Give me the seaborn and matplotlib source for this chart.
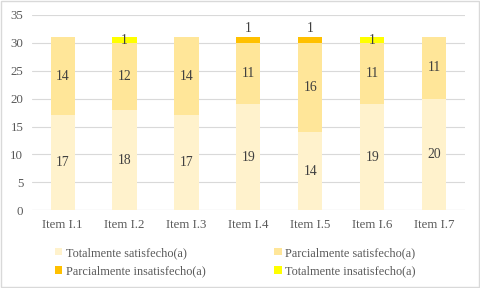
import numpy as np
import pandas as pd
import matplotlib.pyplot as plt
import seaborn as sns
from matplotlib.patches import Patch, Rectangle

items = ["Item I.1", "Item I.2", "Item I.3", "Item I.4", "Item I.5", "Item I.6", "Item I.7"]
tot_sat = [17, 18, 17, 19, 14, 19, 20]
par_sat = [14, 12, 14, 11, 16, 11, 11]
par_ins = [0, 0, 0, 1, 1, 0, 0]
tot_ins = [0, 1, 0, 0, 0, 1, 0]

names = ["Totalmente satisfecho(a)", "Parcialmente satisfecho(a)",
         "Parcialmente insatisfecho(a)", "Totalmente insatisfecho(a)"]
colors = ["#FFF2CC", "#FFE699", "#FFC000", "#FFFF00"]

sns.set_theme(style="white")
plt.rcParams["font.family"] = ["Liberation Serif", "DejaVu Serif"]
txt = "#595959"
fs = 9

series = [np.array(s) for s in (tot_sat, par_sat, par_ins, tot_ins)]
cum = np.cumsum(series, axis=0)

fig = plt.figure(figsize=(4.8, 2.88), dpi=100)
ax = fig.add_axes([0.066, 0.27, 0.903, 0.678])

# stacked segments, each one sitting on the running total of the ones below
base = np.zeros(len(items))
for i in range(4):
    df = pd.DataFrame({"item": items, "val": series[i]})
    sns.barplot(data=df, x="item", y="val", color=colors[i], saturation=1,
                width=0.39, linewidth=0, bottom=base.copy(), ax=ax, zorder=3)
    base = base + series[i]

lab = "#404040"
lfs = 9.8
for j in range(len(items)):
    ax.text(j, tot_sat[j] / 2, str(tot_sat[j]), ha="center", va="center", fontsize=lfs, color=lab, zorder=4)
    ax.text(j, cum[0][j] + par_sat[j] / 2, str(par_sat[j]), ha="center", va="center", fontsize=lfs, color=lab, zorder=4)
    if par_ins[j]:
        ax.text(j, cum[2][j] + 1.6, str(par_ins[j]), ha="center", va="center", fontsize=lfs, color=lab, zorder=4)
    if tot_ins[j]:
        ax.text(j, cum[2][j] + tot_ins[j] / 2 - 0.1, str(tot_ins[j]), ha="center", va="center", fontsize=lfs, color=lab, zorder=4)

ax.set_ylim(0, 35)
ax.set_yticks(range(0, 36, 5))
ax.set_xlim(-0.5, 6.5)
ax.yaxis.grid(True, color="#D9D9D9", linewidth=0.8, zorder=0)
ax.set_axisbelow(True)
for s in ax.spines.values():
    s.set_visible(False)
ax.axhline(0, color="#D9D9D9", linewidth=0.8, zorder=1)
ax.set_xlabel("")
ax.set_ylabel("")
ax.tick_params(axis="both", length=0, labelsize=fs + 0.3, labelcolor=txt, pad=6)

handles = [Patch(facecolor=c, edgecolor="none") for c in colors]
order = [0, 2, 1, 3]
fig.legend([handles[k] for k in order], [names[k] for k in order], ncol=2,
           loc="lower left", bbox_to_anchor=(0.092, 0.0), frameon=False,
           fontsize=8.8, labelcolor=txt, handlelength=0.6, handleheight=0.6,
           handletextpad=0.3, columnspacing=5.6, labelspacing=0.5)

fig.patches.append(Rectangle((0.002, 0.003), 0.995, 0.994, transform=fig.transFigure,
                             fill=False, edgecolor="#D9D9D9", linewidth=1))

fig.savefig("out.png", dpi=100)
